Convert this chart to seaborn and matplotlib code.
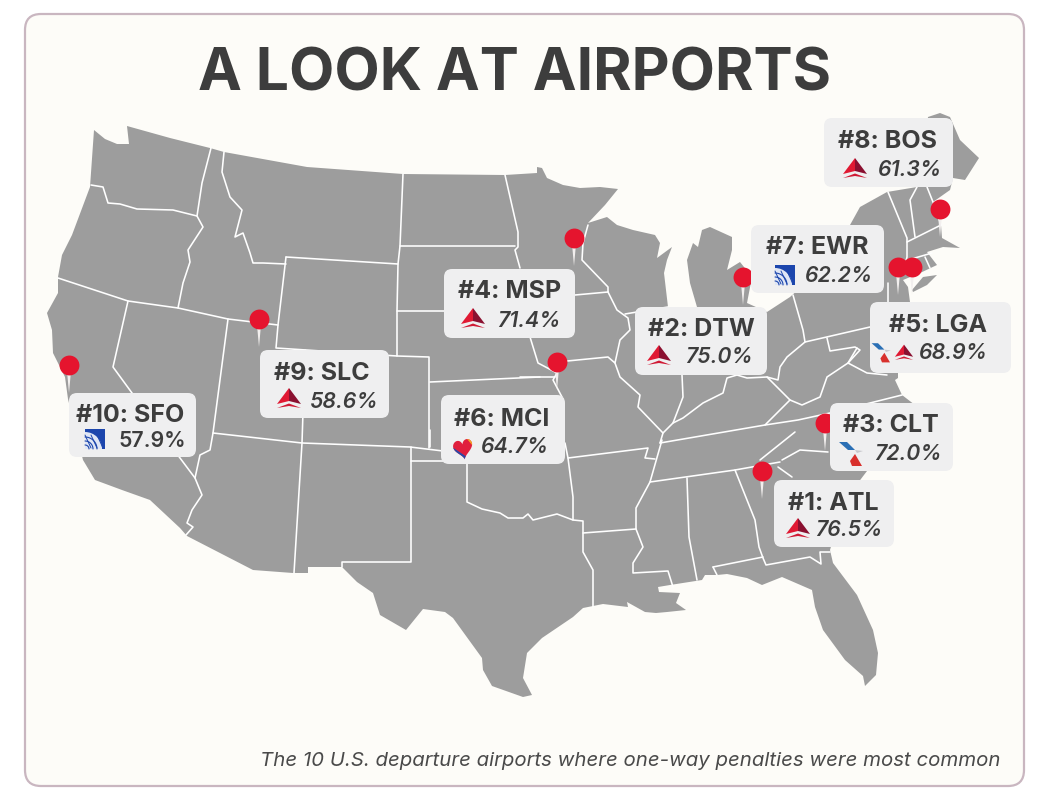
import numpy as np
import pandas as pd
import matplotlib
matplotlib.use("Agg")
import matplotlib.pyplot as plt
from matplotlib.patches import FancyBboxPatch, Polygon, Wedge
import seaborn as sns

# airport table
ranks = [10, 9, 4, 6, 2, 7, 8, 5, 3, 1]
codes = ["SFO", "SLC", "MSP", "MCI", "DTW", "EWR", "BOS", "LGA", "CLT", "ATL"]
shares = [57.9, 58.6, 71.4, 64.7, 75.0, 62.2, 61.3, 68.9, 72.0, 76.5]
carriers = [["united"], ["delta"], ["delta"], ["southwest"], ["delta"], ["united"],
            ["delta"], ["american", "delta"], ["american"], ["delta"]]

# pin heads on the map, in picture pixels
pin_x = [69, 259, 574, 557, 743, 898, 940, 912, 825, 762]
pin_y = [365, 319, 238, 362, 277, 267, 209, 267, 423, 471]

# map outline, in picture pixels
land = [(94,130),(105,139),(117,144),(129,144),(127,126),(170,138),(210,148),(224,152),(307,167),(403,174),
        (505,175),(537,173),(537,167),(542,168),(547,178),(563,185),(580,188),(600,187),(618,189),(605,205),
        (588,223),(607,217),(617,225),(633,230),(655,235),(660,243),(657,258),(672,247),(667,260),(664,273),
        (668,307),(672,340),(690,340),(697,307),(690,283),(687,260),(693,243),(698,247),(702,230),(710,227),
        (732,237),(732,250),(727,270),(740,262),(752,277),(747,303),(767,312),(790,297),(800,288),(840,240),
        (850,225),(860,207),(887,192),(917,187),(924,150),(928,117),(940,113),(950,117),(960,140),(979,158),
        (965,180),(953,178),(950,190),(933,202),(941,225),(942,238),(960,248),(943,247),(927,252),(937,265),
        (920,273),(903,280),(908,287),(910,302),(905,340),(898,372),(898,378),(895,380),(902,395),(915,405),
        (935,425),(915,450),(880,470),(867,471),(845,500),(830,550),(833,563),(857,595),(873,630),(878,653),
        (876,675),(865,686),(863,676),(845,660),(823,630),(815,607),(812,590),(782,577),(762,585),(747,578),
        (727,574),(717,575),(705,575),(702,580),(670,585),(658,587),(659,592),(680,593),(676,603),(686,610),
        (667,612),(656,613),(645,612),(627,602),(628,607),(603,604),(583,608),(573,617),(542,638),(527,653),
        (523,678),(532,695),(523,697),(492,686),(483,670),(482,658),(453,618),(445,612),(423,609),(406,630),
        (380,615),(373,593),(357,582),(342,567),(308,567),(308,573),(293,573),(253,570),(187,536),(180,528),
        (150,500),(122,490),(95,480),(83,460),(68,399),(65,377),(53,353),(52,330),(47,313),(58,293),
        (58,277),(62,255),(72,235),(90,187)]
long_island = [(912,290),(923,277),(937,275),(927,285),(913,292)]

# state lines, in picture pixels
borders = [
    [(91,185),(103,187),(108,203),(120,204),(137,209),(173,210),(197,216)],
    [(211,148),(202,183),(197,216),(203,227),(188,250),(190,262),(183,283),(178,308)],
    [(224,152),(222,172),(230,197),(242,210),(235,237),(243,233),(250,253),(253,263),(263,263),(286,264)],
    [(286,257),(398,264)],
    [(286,257),(278,325),(276,348),(397,356),(429,357),(429,448)],
    [(58,278),(128,301),(178,308),(228,319),(278,325)],
    [(128,301),(113,367),(132,393),(180,458),(195,478),(202,495),(192,510),(187,523),(193,527),(186,535)],
    [(228,319),(213,433),(210,450),(200,455),(195,478)],
    [(213,433),(302,443),(410,447),(443,451)],
    [(305,350),(302,443),(294,573)],
    [(411,447),(411,562),(342,562),(342,567)],
    [(411,461),(443,461)],
    [(430,430),(430,447)],
    [(565,443),(568,458),(573,497),(573,520)],
    [(568,458),(648,448),(645,458),(655,459)],
    [(467,463),(467,502),(482,509),(500,513),(508,518),(523,518),(528,514),(533,520),(557,514),(573,520),(583,521),
     (583,552),(593,570),(593,607)],
    [(583,533),(636,529)],
    [(662,440),(650,482),(636,508),(636,529),(643,547),(633,563),(633,573),(668,571),(673,587)],
    [(650,482),(735,470),(780,462)],
    [(687,478),(689,537),(697,580)],
    [(735,470),(755,520),(759,547),(763,558),(766,565),(810,557),(821,564),(820,552),(830,552)],
    [(713,567),(763,557)],
    [(713,567),(717,575)],
    [(778,467),(792,477)],
    [(782,460),(800,450),(828,452)],
    [(760,460),(795,432)],
    [(660,443),(765,425),(798,420),(830,413),(902,395)],
    [(765,425),(790,400),(802,405),(820,397),(827,377),(848,363),(857,348)],
    [(663,433),(673,423),(683,418),(703,403),(723,393),(727,378),(737,375),(747,378),(767,377),(790,400)],
    [(615,363),(620,377),(640,395),(638,407),(663,433),(660,443)],
    [(557,362),(608,357),(615,363),(620,340),(630,330),(628,318),(617,310),(608,292)],
    [(575,295),(608,292)],
    [(625,314),(637,312),(668,307)],
    [(588,225),(583,243),(582,260),(608,287),(608,292)],
    [(682,375),(683,397),(673,423)],
    [(793,295),(803,330),(805,342),(870,327)],
    [(805,342),(787,357),(780,367),(778,380),(767,377)],
    [(827,338),(830,351),(855,347),(860,350),(848,363),(867,373),(887,375)],
    [(888,283),(888,302)],
    [(888,192),(907,238),(907,257),(903,273)],
    [(917,187),(910,200),(915,237)],
    [(927,187),(933,202),(941,225)],
    [(907,242),(941,225)],
    [(908,260),(932,253)],
    [(925,257),(930,268)],
    [(505,175),(518,232),(518,247),(515,250),(520,268)],
    [(530,337),(538,363),(557,373),(553,380),(562,397)],
    [(400,246),(515,246)],
    [(403,174),(400,246),(398,264),(397,311),(397,356)],
    [(397,311),(445,311)],
    [(430,382),(540,377)],
    [(520,377),(555,377)],
]

# label layout, in picture pixels, same order as the airport table
card_left = [69, 260, 444, 441, 635, 751, 824, 870, 830, 774]
card_top = [393, 350, 269, 395, 307, 225, 118, 302, 403, 480]
card_right = [196, 389, 575, 565, 767, 884, 953, 1011, 953, 894]
card_bottom = [457, 418, 338, 464, 375, 293, 187, 373, 471, 547]
head_x = [130, 322, 510, 502, 701, 817, 888, 938, 891, 833]
head_y = [415, 373, 292, 420, 329, 247, 141, 326, 426, 503]
share_x = [152, 344, 529, 515, 719, 839, 910, 953, 908, 849]
share_y = [441, 402, 321, 447, 357, 276, 170, 353, 454, 530]
logo_x = [[95], [289], [473], [463], [659], [785], [855], [882, 904], [852], [798]]
logo_y = [[439], [399], [319], [448], [356], [275], [169], [352, 353], [453], [529]]
logo_scale = [[1], [1], [1], [1], [1], [1], [1], [0.8, 0.76], [1], [1]]

INK = "#3d3d3d"
LAND = "#9d9d9d"
PAPER = "#fdfcf8"
RED = "#e5142e"

sns.set_theme(style="white")
plt.rcParams["font.family"] = ["Inter", "DejaVu Sans"]

fig, ax = plt.subplots(figsize=(10.5, 8.08), dpi=100)
ax.set_position([0, 0, 1, 1])
ax.set_xlim(0, 1050)
ax.set_ylim(808, 0)
ax.axis("off")
fig.patch.set_facecolor("white")


def poly(pts, cx, cy, color, s=1.0, z=7):
    p = Polygon([(cx + a * s, cy + b * s) for a, b in pts], closed=True,
                facecolor=color, edgecolor="none", zorder=z)
    ax.add_patch(p)
    return p


def delta_logo(cx, cy, s=1.0):
    poly([(0, -11), (-12, 5), (0, 2)], cx, cy, "#e01933", s)
    poly([(0, -11), (12, 5), (0, 2)], cx, cy, "#8a1030", s)
    poly([(-12, 9), (0, 4.5), (12, 9), (0, 7)], cx, cy, "#d01a35", s)


def united_logo(cx, cy, s=1.0):
    poly([(-10, -10), (10, -10), (10, 10), (-10, 10)], cx, cy, "#1c46ad", s)
    # the globe sits in the lower left corner
    ax.add_patch(Wedge((cx - 10 * s, cy + 10 * s), 17 * s, -90, 0, facecolor="#dfe6f5",
                       edgecolor="none", zorder=8))
    t = np.linspace(0, 1, 20)
    for r in [4, 8, 12]:
        ax.plot(cx - 10 + r * np.cos(t * 1.57), cy + 10 - r * np.sin(t * 1.57),
                color="#1c46ad", lw=0.8, zorder=9)
    for k in [-9, -3, 3]:
        ax.plot(cx + k + 6 * t - 1, cy - 4 + 13 * t, color="#1c46ad", lw=0.7, zorder=9)


def american_logo(cx, cy, s=1.0):
    poly([(-13, -11), (-5, -11), (3, -3), (-4, -3)], cx, cy, "#2a6fb5", s)
    poly([(3, -3), (11, -2), (5, 0)], cx, cy, "#c8c8cc", s)
    poly([(-2, 8), (3, 1), (10, 13), (0, 13)], cx, cy, "#d8302c", s)


def southwest_logo(cx, cy, s=1.0):
    t = np.linspace(0, 2 * np.pi, 60)
    hx = 16 * np.sin(t) ** 3
    hy = -(13 * np.cos(t) - 5 * np.cos(2 * t) - 2 * np.cos(3 * t) - np.cos(4 * t))
    a = np.radians(-10)
    shape = np.column_stack([0.6 * (hx * np.cos(a) - hy * np.sin(a)),
                             0.68 * (hx * np.sin(a) + hy * np.cos(a))]) + [cx, cy]
    clip = Polygon(shape, closed=True, transform=ax.transData)
    bands = [([(-14, -14), (14, -14), (14, 14), (-14, 14)], "#e01f3d"),
             ([(0, -14), (14, -14), (14, 3)], "#f4a623"),
             ([(-14, -3), (10, 13), (-14, 14)], "#2a4aa8")]
    for pts, c in bands:
        b = poly(pts, cx, cy, c, s)
        b.set_clip_path(clip)


logo_draw = {"delta": delta_logo, "united": united_logo,
             "american": american_logo, "southwest": southwest_logo}

# rounded card behind everything
ax.add_patch(FancyBboxPatch((25, 14), 999, 772, boxstyle="round,pad=0,rounding_size=16",
                            facecolor=PAPER, edgecolor="#c9b6c0", linewidth=1.6, zorder=0))

# map
ax.fill(*zip(*land), color=LAND, lw=0, zorder=1)
ax.fill(*zip(*long_island), color=LAND, lw=0, zorder=1)
for line in borders:
    ax.plot(*zip(*line), color="white", lw=1.15, solid_joinstyle="round", zorder=2)

# pins
pins = pd.DataFrame({"x": pin_x, "y": pin_y})
for x, y in zip(pin_x, pin_y):
    ax.fill([x - 2, x + 2, x], [y + 6, y + 6, y + 28], color="#f2efee", lw=0, zorder=3)
sns.scatterplot(data=pins, x="x", y="y", s=205, color=RED, linewidth=0, ax=ax, zorder=4, legend=False)
ax.set_xlim(0, 1050)
ax.set_ylim(808, 0)
ax.axis("off")

# labels
for i, code in enumerate(codes):
    ax.add_patch(FancyBboxPatch((card_left[i], card_top[i]), card_right[i] - card_left[i],
                                card_bottom[i] - card_top[i], boxstyle="round,pad=0,rounding_size=8",
                                facecolor="#efeff0", edgecolor="none", zorder=5))
    ax.text(head_x[i], head_y[i], f"#{ranks[i]}: {code}", fontsize=18, fontweight="bold",
            color=INK, ha="center", va="center", zorder=6)
    ax.text(share_x[i], share_y[i], f"{shares[i]:.1f}%", fontsize=15.3, fontweight="semibold",
            style="normal" if code == "SFO" else "italic", color=INK, ha="center", va="center", zorder=6)
    for name, lx, ly, sc in zip(carriers[i], logo_x[i], logo_y[i], logo_scale[i]):
        logo_draw[name](lx, ly, sc)

ax.text(515, 75, "A LOOK AT AIRPORTS", fontsize=42.3, fontweight="bold", color=INK,
        ha="center", va="center", zorder=6)
ax.text(1000, 761, "The 10 U.S. departure airports where one-way penalties were most common",
        fontsize=14.7, style="italic", color="#4a4a4a", ha="right", va="center", zorder=6)

fig.savefig("out.png", dpi=100)
